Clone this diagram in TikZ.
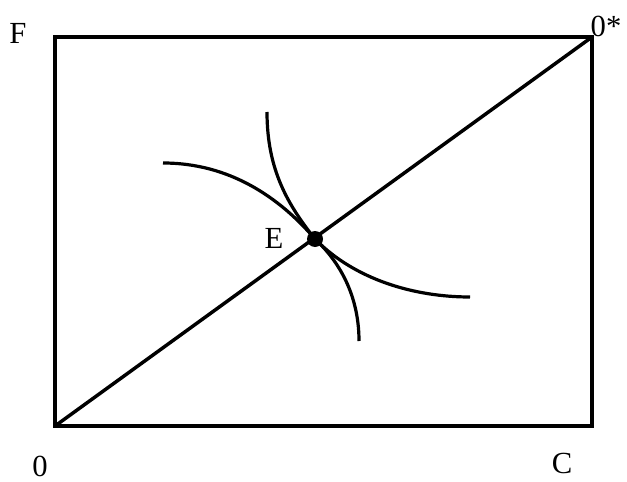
\documentclass[tikz,border=0pt]{standalone}
\usepackage{fontspec}
\setmainfont{Liberation Serif}
\begin{document}
\begin{tikzpicture}[x=0.75pt,y=-0.75pt,
  thick line/.style={line width=2.6pt, line join=miter},
  curve/.style={line width=2.4pt},
  lbl/.style={font=\fontsize{23}{27}\selectfont, inner sep=0pt}]
\useasboundingbox (0,0) rectangle (627,481);
\coordinate (O) at (55,426);
\coordinate (Os) at (592,37);
\coordinate (TL) at (55,37);
\coordinate (BR) at (592,426);
\coordinate (E) at (315,239);
\draw[thick line] (TL) rectangle (BR);
\draw[thick line] (O) -- (Os);
\draw[curve] (163,163) .. controls (230,163) and (280,198) .. (E)
  .. controls (355,280) and (415,297) .. (470,297);
\draw[curve] (267,112) .. controls (267,170) and (288,205) .. (E)
  .. controls (343,265) and (359,300) .. (359,341);
\fill (E) circle (8);
\node[lbl] (Fl) at (18,33) {F};
\node[lbl] (Osl) at (606,26) {0*};
\node[lbl] (Ol) at (40,466) {0};
\node[lbl] (Cl) at (562,463) {C};
\node[lbl] (El) at (274,238) {E};
\end{tikzpicture}
\end{document}
